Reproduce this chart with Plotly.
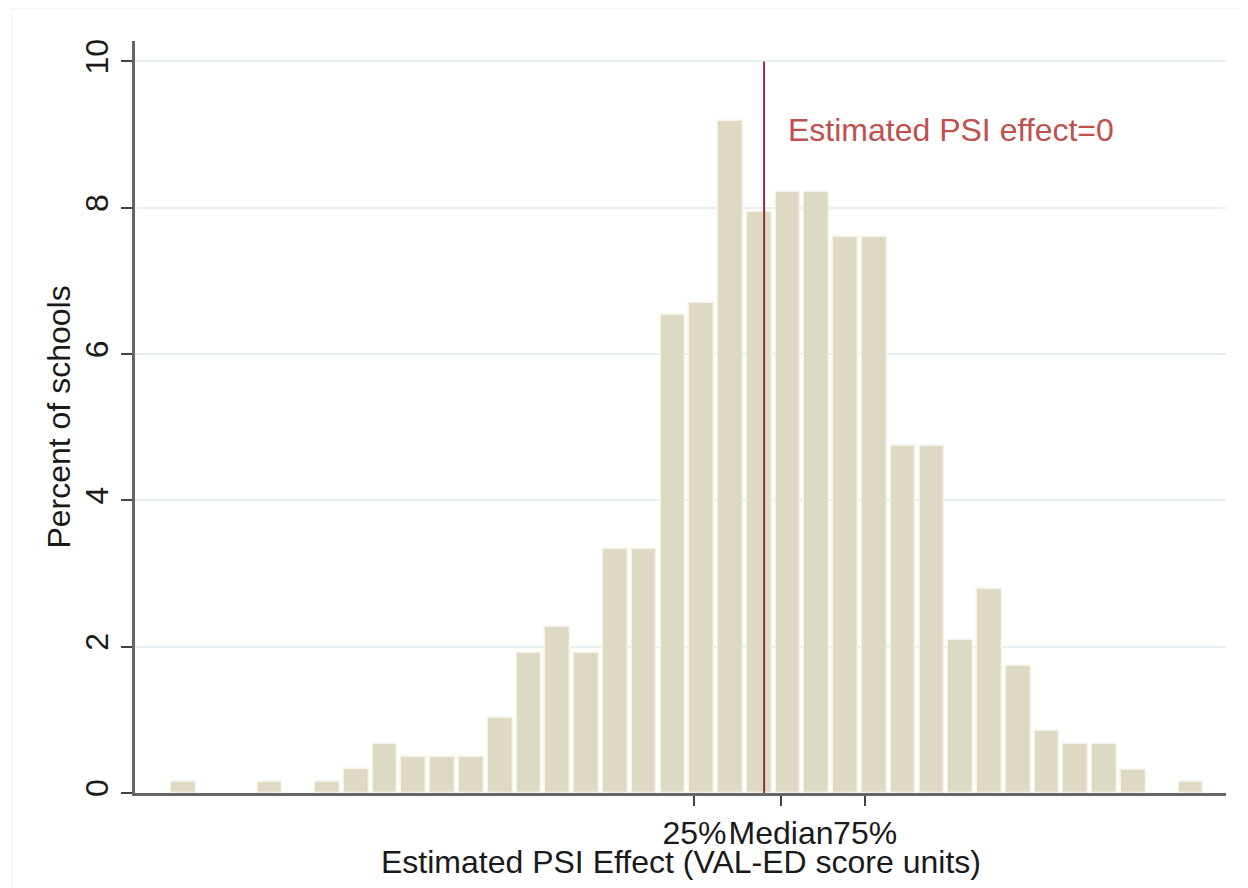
import plotly.graph_objects as go

# Histogram bins (bin index along the estimated-effect axis) and percent of schools
bin_index = list(range(36))
percent_schools = [0.15, 0, 0, 0.15, 0, 0.15, 0.33, 0.67, 0.49, 0.49, 0.49, 1.02,
                   1.92, 2.27, 1.92, 3.33, 3.33, 6.53, 6.70, 9.19, 7.94, 8.21,
                   8.21, 7.60, 7.60, 4.75, 4.75, 2.09, 2.79, 1.73, 0.85, 0.67,
                   0.67, 0.31, 0, 0.15]

# Quartile tick positions (in bin-index units) and labels
tick_positions = [17.75, 20.76, 23.68]
tick_labels = ["25%", "Median", "75%"]

# Position of the estimated PSI effect = 0 line
psi_zero = 20.17
annotation_text = "Estimated PSI effect=0"
x_title = "Estimated PSI Effect (VAL-ED score units)"
y_title = "Percent of schools"

FONT = "Liberation Sans, Arial, sans-serif"
FS = 32

line_widths = [1.5 if v > 0 else 0 for v in percent_schools]

fig = go.Figure()
fig.add_trace(go.Bar(
    x=bin_index, y=percent_schools, width=0.86,
    marker=dict(color="#ddd9c3", line=dict(color="#f4f2e9", width=line_widths)),
    showlegend=False, hoverinfo="x+y",
))

fig.add_shape(type="line", xref="x", yref="y", x0=psi_zero, x1=psi_zero, y0=0, y1=10,
              line=dict(color="#8e2f3a", width=2))
fig.add_annotation(x=psi_zero, y=9.07, xref="x", yref="y", text=annotation_text,
                   showarrow=False, xanchor="left", yanchor="middle", xshift=22,
                   font=dict(family=FONT, size=FS, color="#c0504d"))

# x-axis title placed as annotation for precise position
fig.add_annotation(x=0.5, y=0, xref="paper", yref="paper", text=x_title,
                   showarrow=False, xanchor="center", yanchor="middle",
                   xshift=(680.5 - (135 + 1091 / 2)), yshift=-(862 - 793),
                   font=dict(family=FONT, size=FS, color="#1a1a1a"))

# faint outer frame (only top and left edges visible, as in the original)
fig.add_shape(type="rect", xref="paper", yref="paper",
              x0=(12 - 135) / 1091, x1=(1300 - 135) / 1091,
              y0=-(950 - 793) / 751.6, y1=(793 - 9) / 751.6,
              line=dict(color="#f1f1f1", width=1), layer="below")

fig.update_layout(
    width=1240, height=880,
    margin=dict(l=127, r=22, t=33, b=95),
    paper_bgcolor="white", plot_bgcolor="white",
    font=dict(family=FONT, size=FS, color="#1a1a1a"),
    bargap=0,
    xaxis=dict(range=[-1.69, 36.22], tickmode="array", tickvals=tick_positions,
               ticktext=tick_labels, tickangle=0, ticks="outside", ticklen=10, tickwidth=2,
               tickcolor="#444444", showline=True, linecolor="#666666", linewidth=2.5,
               showgrid=False, zeroline=False, automargin=False,
               tickfont=dict(size=FS)),
    yaxis=dict(range=[0, 10.28], tickvals=[0, 2, 4, 6, 8, 10], tickangle=-90,
               ticks="outside", ticklen=11, tickwidth=2, tickcolor="#444444",
               showline=True, linecolor="#666666", linewidth=2.5,
               showgrid=True, gridcolor="#e6eff1", gridwidth=2, zeroline=False,
               automargin=False,
               title=dict(text=y_title, standoff=0, font=dict(size=FS)),
               tickfont=dict(size=FS)),
)

fig.write_html("out.html")
